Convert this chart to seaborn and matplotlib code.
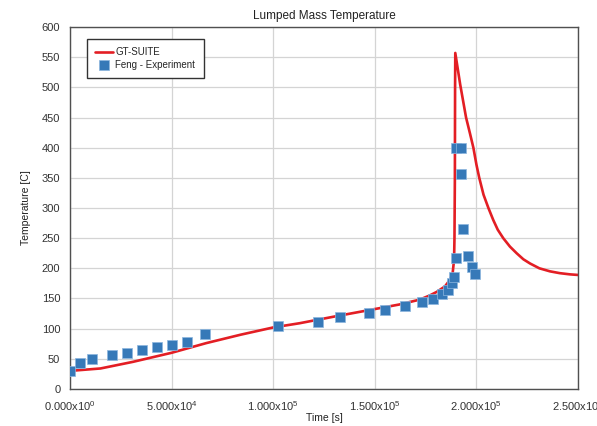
import pandas as pd
import matplotlib.pyplot as plt
import seaborn as sns

# GT-SUITE simulation curve
sim_time = [0, 1.5e4, 3.1e4, 5.0e4, 6.7e4, 8.4e4, 1.0e5, 1.13e5, 1.3e5, 1.46e5,
            1.62e5, 1.72e5, 1.77e5, 1.805e5, 1.845e5, 1.87e5, 1.883e5, 1.89e5,
            1.892e5, 1.894e5, 1.895e5, 1.896e5, 1.92e5, 1.949e5, 1.968e5, 1.985e5,
            2.0e5, 2.014e5, 2.035e5, 2.059e5, 2.083e5, 2.105e5, 2.132e5, 2.165e5,
            2.198e5, 2.231e5, 2.264e5, 2.31e5, 2.362e5, 2.41e5, 2.46e5, 2.5e5]
sim_temp = [30, 34, 45, 60, 76, 90, 102, 109, 120, 130,
            140, 148, 155, 161, 170, 181, 192, 214,
            250, 350, 500, 557, 505, 450, 424, 400,
            372, 350, 322, 300, 280, 264, 250, 236,
            225, 215, 208, 200, 195, 192, 190, 189]

# Feng experiment points
exp_time = [0, 0.49e4, 1.08e4, 2.07e4, 2.8e4, 3.54e4, 4.28e4, 5.02e4, 5.76e4, 6.64e4,
            1.024e5, 1.22e5, 1.33e5, 1.47e5, 1.55e5, 1.65e5, 1.73e5, 1.786e5,
            1.831e5, 1.86e5, 1.88e5, 1.89e5, 1.90e5, 1.90e5, 1.924e5, 1.924e5,
            1.934e5, 1.959e5, 1.978e5, 1.993e5]
exp_temp = [30, 43, 50, 56, 60, 65, 70, 73, 78, 91,
            104, 111, 119, 126, 131, 137, 144, 149,
            157, 164, 176, 186, 217, 400, 400, 356,
            265, 220, 202, 191]

xticks = [0, 5e4, 1e5, 1.5e5, 2e5, 2.5e5]
xtick_labels = [r'$\mathregular{0.000x10^{0}}$', r'$\mathregular{5.000x10^{4}}$',
                r'$\mathregular{1.000x10^{5}}$', r'$\mathregular{1.500x10^{5}}$',
                r'$\mathregular{2.000x10^{5}}$', r'$\mathregular{2.500x10^{5}}$']

sim = pd.DataFrame({'time': sim_time, 'temp': sim_temp})
exp = pd.DataFrame({'time': exp_time, 'temp': exp_temp})

sns.set_style('whitegrid')
plt.rcParams['font.family'] = ['Liberation Sans', 'DejaVu Sans']
plt.rcParams['mathtext.fontset'] = 'custom'
plt.rcParams['mathtext.rm'] = 'Liberation Sans'

fig = plt.figure(figsize=(5.97, 4.26), dpi=100)
ax = fig.add_axes([0.1173, 0.0869, 0.8509, 0.8497])

sns.lineplot(data=sim, x='time', y='temp', ax=ax, color='#e31e24', linewidth=1.9,
             sort=False, label='GT-SUITE', solid_joinstyle='round')
sns.scatterplot(data=exp, x='time', y='temp', ax=ax, marker='s', s=52,
                color='#3679b8', edgecolor='#8cb6df', linewidth=0.5,
                label='Feng - Experiment', zorder=3)

ax.set_xlim(0, 2.5e5)
ax.set_ylim(0, 600)
ax.set_xticks(xticks)
ax.set_xticklabels(xtick_labels)
ax.set_yticks(range(0, 601, 50))
ax.grid(True, color='#d4d4d4', linewidth=0.9)
for sp in ax.spines.values():
    sp.set_color('#505050')
    sp.set_linewidth(1.0)
ax.tick_params(direction='in', length=4, width=1, color='#505050',
               labelsize=8, labelcolor='#333333')
ax.tick_params(axis='x', pad=7)
ax.tick_params(axis='y', pad=7)

ax.set_title('Lumped Mass Temperature', fontsize=8.5, color='#222222', pad=6)
ax.set_xlabel('Time [s]', fontsize=7.5, color='#222222', labelpad=0)
ax.set_ylabel('Temperature [C]', fontsize=7.5, color='#222222', labelpad=8)

leg = ax.legend(loc='upper left', bbox_to_anchor=(0.033, 0.967), borderaxespad=0,
                fontsize=7, frameon=True, fancybox=False, framealpha=1,
                edgecolor='#333333', handlelength=1.8, labelspacing=0.25,
                borderpad=0.85, handletextpad=0.3, markerscale=0.9)
leg.get_frame().set_linewidth(1.0)

fig.savefig('out.png', dpi=100)
